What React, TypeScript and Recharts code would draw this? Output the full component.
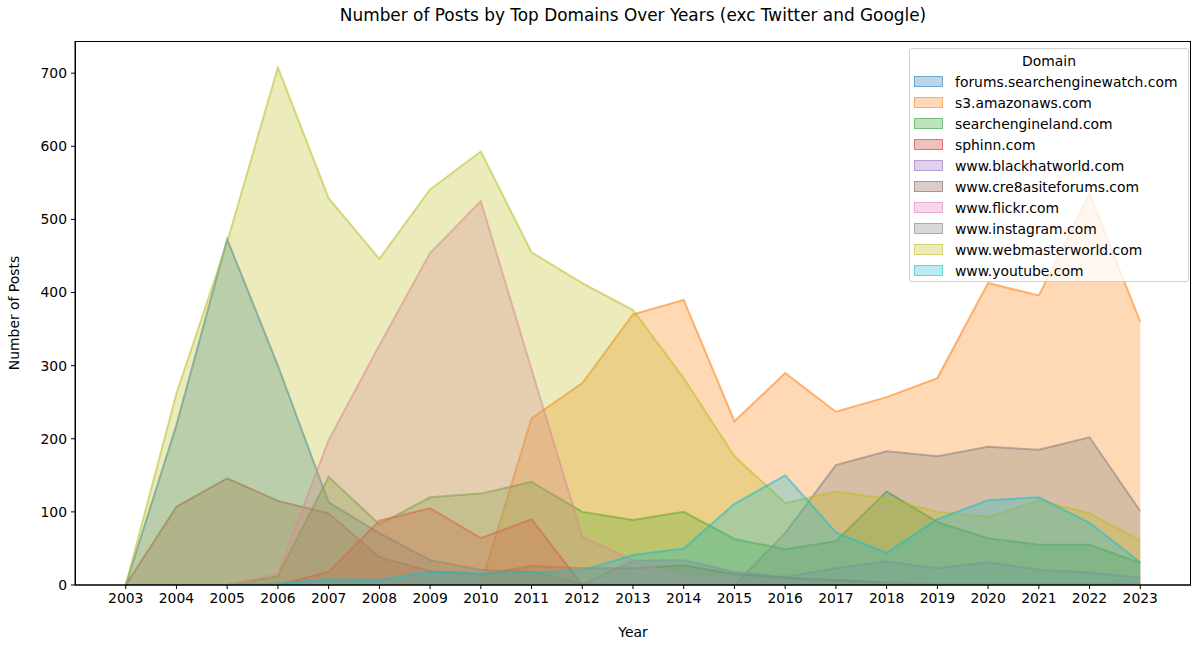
import React from 'react';
import { AreaChart, Area, XAxis, YAxis } from 'recharts';

const years = [2003, 2004, 2005, 2006, 2007, 2008, 2009, 2010, 2011, 2012, 2013, 2014, 2015, 2016, 2017, 2018, 2019, 2020, 2021, 2022, 2023];

const searchEngineWatch = [0, 219, 473, 300, 113, 71, 34, 21, 18, 1, 0, 0, 0, 0, 0, 0, 0, 0, 0, 0, 0];
const amazonaws = [0, 0, 0, 0, 0, 0, 0, 0, 228, 276, 370, 390, 224, 290, 237, 257, 283, 413, 396, 535, 360];
const searchEngineLand = [0, 0, 0, 12, 148, 83, 120, 125, 141, 100, 89, 100, 63, 49, 60, 128, 86, 64, 55, 55, 30];
const sphinn = [0, 0, 0, 0, 18, 88, 105, 64, 90, 0, 0, 0, 0, 0, 0, 0, 0, 0, 0, 0, 0];
const blackhatworld = [0, 0, 0, 0, 0, 0, 0, 0, 0, 0, 33, 34, 18, 11, 23, 32, 23, 31, 21, 17, 10];
const cre8asiteforums = [0, 107, 146, 115, 98, 38, 19, 14, 26, 23, 23, 27, 15, 10, 7, 3, 1, 1, 1, 1, 1];
const flickr = [0, 0, 0, 16, 198, 328, 454, 525, 295, 66, 34, 10, 9, 5, 2, 2, 1, 1, 1, 1, 1];
const instagram = [0, 0, 0, 0, 0, 0, 0, 0, 0, 0, 0, 0, 0, 71, 164, 183, 176, 189, 185, 202, 101];
const webmasterworld = [0, 262, 469, 708, 529, 446, 541, 593, 455, 413, 376, 283, 176, 112, 128, 118, 100, 93, 116, 98, 61];
const youtube = [0, 0, 0, 2, 8, 7, 18, 16, 17, 20, 41, 50, 111, 150, 72, 44, 90, 116, 120, 85, 31];

const yTicks = [0, 100, 200, 300, 400, 500, 600, 700];

const series = [
  { key: 'forums.searchenginewatch.com', values: searchEngineWatch, color: '#1f77b4' },
  { key: 's3.amazonaws.com', values: amazonaws, color: '#ff7f0e' },
  { key: 'searchengineland.com', values: searchEngineLand, color: '#2ca02c' },
  { key: 'sphinn.com', values: sphinn, color: '#d62728' },
  { key: 'www.blackhatworld.com', values: blackhatworld, color: '#9467bd' },
  { key: 'www.cre8asiteforums.com', values: cre8asiteforums, color: '#8c564b' },
  { key: 'www.flickr.com', values: flickr, color: '#e377c2' },
  { key: 'www.instagram.com', values: instagram, color: '#7f7f7f' },
  { key: 'www.webmasterworld.com', values: webmasterworld, color: '#bcbd22' },
  { key: 'www.youtube.com', values: youtube, color: '#17becf' },
];

const data = years.map((year, i) => {
  const row: Record<string, number> = { year };
  series.forEach((s) => {
    row[s.key] = s.values[i];
  });
  return row;
});

const font = '"DejaVu Sans", sans-serif';
const tickStyle = { fontSize: 13.9, fill: '#000', fontFamily: font };

function LegendBox() {
  return (
    <div
      style={{
        position: 'absolute',
        left: 909,
        top: 48,
        width: 280,
        height: 234,
        border: '1px solid #d0d0d0',
        borderRadius: 3,
        background: 'rgba(255,255,255,0.8)',
        fontFamily: font,
        fontSize: 13.9,
        color: '#000',
        boxSizing: 'border-box',
      }}
    >
      <div style={{ textAlign: 'center', marginTop: 2, height: 20, lineHeight: '20px' }}>Domain</div>
      {series.map((s) => (
        <div key={s.key} style={{ display: 'flex', alignItems: 'center', height: 21, marginLeft: 4 }}>
          <div
            style={{
              width: 27,
              height: 9,
              background: s.color + '4d',
              border: '1px solid ' + s.color + '80',
            }}
          />
          <span style={{ marginLeft: 12, whiteSpace: 'nowrap' }}>{s.key}</span>
        </div>
      ))}
    </div>
  );
}

export default function App() {
  return (
    <div style={{ position: 'absolute', left: 0, top: 0, width: 1198, height: 647, background: '#fff' }}>
      <AreaChart width={1198} height={647} data={data} margin={{ top: 41, right: 7, bottom: 32, left: 15 }}>
        <XAxis
          dataKey="year"
          type="number"
          domain={[2002, 2024]}
          ticks={years}
          interval={0}
          tick={tickStyle}
          tickSize={4}
          tickMargin={4}
          height={30}
          stroke="#000"
          allowDataOverflow
        />
        <YAxis
          domain={[0, 744]}
          ticks={yTicks}
          tick={tickStyle}
          tickSize={4}
          tickMargin={4}
          width={60}
          stroke="#000"
          allowDataOverflow
        />
        {series.map((s) => (
          <Area
            key={s.key}
            type="linear"
            dataKey={s.key}
            stroke={s.color}
            strokeOpacity={0.55}
            strokeWidth={2}
            fill={s.color}
            fillOpacity={0.3}
            dot={false}
            activeDot={false}
            isAnimationActive={false}
          />
        ))}
      </AreaChart>
      <svg
        width={1198}
        height={647}
        style={{ position: 'absolute', left: 0, top: 0, pointerEvents: 'none' }}
        fontFamily={font}
      >
        <rect x={75.5} y={41.5} width={1115} height={543.5} fill="none" stroke="#000" strokeWidth={1} />
        <text x={633} y={21} textAnchor="middle" fontSize={16.9} fill="#000">
          Number of Posts by Top Domains Over Years (exc Twitter and Google)
        </text>
        <text x={633} y={637} textAnchor="middle" fontSize={13.9} fill="#000">
          Year
        </text>
        <text
          x={0}
          y={0}
          transform="translate(19, 313) rotate(-90)"
          textAnchor="middle"
          fontSize={13.9}
          fill="#000"
        >
          Number of Posts
        </text>
      </svg>
      <LegendBox />
    </div>
  );
}
